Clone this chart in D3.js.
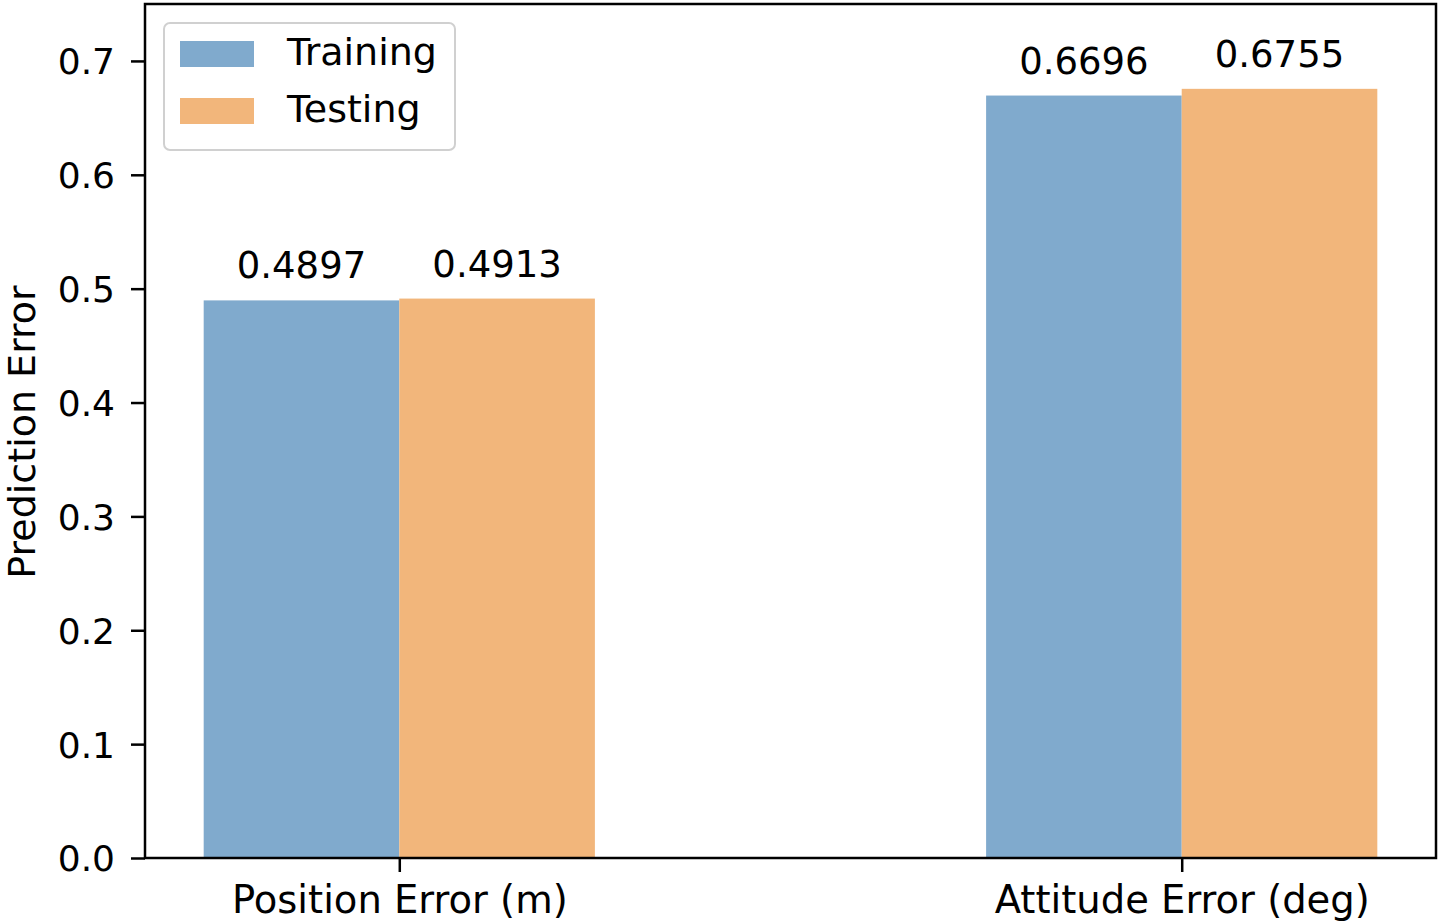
<!DOCTYPE html>
<html><head><meta charset="utf-8">
<script src="https://cdn.jsdelivr.net/npm/d3@7/dist/d3.min.js"></script>
<style>
html,body{margin:0;padding:0;background:#fff;}
svg{display:block;font-family:"DejaVu Sans",sans-serif;}
</style></head>
<body>
<svg id="chart" width="1440" height="922"></svg>
<script>
const categories = ["Position Error (m)", "Attitude Error (deg)"];
const seriesNames = ["Training", "Testing"];
const trainingValues = [0.4897, 0.6696];
const testingValues = [0.4913, 0.6755];
const valueLabels = [["0.4897", "0.4913"], ["0.6696", "0.6755"]];
const yTicks = [0.0, 0.1, 0.2, 0.3, 0.4, 0.5, 0.6, 0.7];
const colors = ["#80aacd", "#f2b67b"];

(function () {
const svg = d3.select("#chart");
const mLeft = 145, mRight = 1436, mTop = 4, mBottom = 858;
const barW = 0.25;

const x = d3.scaleLinear().domain([-0.325, 1.325]).range([mLeft, mRight]);
const y = d3.scaleLinear().domain([0, 0.75]).range([mBottom, mTop]);

const series = [trainingValues, testingValues];

// bars
series.forEach((vals, s) => {
  svg.append("g").selectAll("rect").data(vals).join("rect")
    .attr("x", (d, i) => x(i + (s === 0 ? -barW : 0)))
    .attr("y", d => y(d))
    .attr("width", (d, i) => x(i + barW) - x(i))
    .attr("height", d => y(0) - y(d))
    .attr("fill", colors[s]);
  svg.append("g").selectAll("text").data(vals).join("text")
    .attr("x", (d, i) => x(i + (s === 0 ? -barW / 2 : barW / 2)))
    .attr("y", d => y(d) - 22)
    .attr("text-anchor", "middle")
    .attr("font-size", 37)
    .attr("fill", "#000")
    .text((d, i) => valueLabels[i][s]);
});

// y axis
const yAxis = d3.axisLeft(y).tickValues(yTicks).tickFormat(d3.format(".1f")).tickSize(14).tickPadding(16);
const gy = svg.append("g").attr("transform", `translate(${mLeft},0)`).call(yAxis);
gy.select(".domain").remove();
gy.selectAll(".tick line").attr("stroke", "#000").attr("stroke-width", 2.5);
gy.selectAll(".tick text").attr("font-size", 36).attr("fill", "#000").attr("font-family", "DejaVu Sans").attr("dy", "0.36em");

// x axis
const xAxis = d3.axisBottom(x).tickValues([0, 1]).tickFormat((d, i) => categories[i]).tickSize(14);
const gx = svg.append("g").attr("transform", `translate(0,${mBottom})`).call(xAxis);
gx.select(".domain").remove();
gx.selectAll(".tick line").attr("stroke", "#000").attr("stroke-width", 2.5);
gx.selectAll(".tick text").attr("font-size", 38.5).attr("fill", "#000").attr("font-family", "DejaVu Sans")
  .attr("y", 55).attr("dy", 0);

// frame
svg.append("rect").attr("x", mLeft).attr("y", mTop).attr("width", mRight - mLeft).attr("height", mBottom - mTop)
  .attr("fill", "none").attr("stroke", "#000").attr("stroke-width", 2.5);

// y label
svg.append("text").attr("transform", `translate(35,${(mTop + mBottom) / 2 + 1}) rotate(-90)`)
  .attr("text-anchor", "middle").attr("font-size", 38).attr("fill", "#000").text("Prediction Error");

// legend
const lg = svg.append("g");
lg.append("rect").attr("x", 164).attr("y", 23).attr("width", 291).attr("height", 127).attr("rx", 6)
  .attr("fill", "#fff").attr("fill-opacity", 0.8).attr("stroke", "#d0d0d0").attr("stroke-width", 2);
seriesNames.forEach((n, i) => {
  lg.append("rect").attr("x", 180).attr("y", 41 + i * 57).attr("width", 74).attr("height", 26).attr("fill", colors[i]);
  lg.append("text").attr("x", 287).attr("y", 65 + i * 57).attr("font-size", 38).attr("fill", "#000").text(n);
});
})();
</script>
</body></html>
